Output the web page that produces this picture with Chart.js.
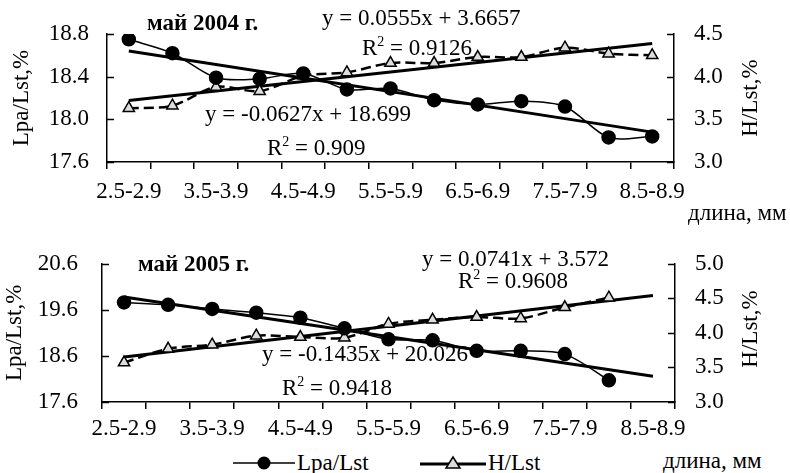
<!DOCTYPE html>
<html>
<head>
<meta charset="utf-8">
<script src="https://cdn.jsdelivr.net/npm/chart.js@4.4.0/dist/chart.umd.min.js"></script>
<style>
  body { margin: 0; width: 790px; height: 473px; background: #fff; position: relative; overflow: hidden;
         font-family: "Liberation Serif", "Times New Roman", serif; color: #000; }
  canvas { position: absolute; left: 0; }
  .t { position: absolute; font-size: 23px; line-height: 1; white-space: nowrap; transform: translateY(-50%); }
  .t sup { font-size: 14px; vertical-align: 9px; line-height: 0; }
  .b { font-weight: bold; font-size: 23px; }
  .rot { position: absolute; font-size: 23px; line-height: 1; white-space: nowrap; transform: translate(-50%, -50%) rotate(-90deg); }
  .leg { position: absolute; display: flex; align-items: center; font-size: 23px; transform: translateY(-50%); }
  .leg svg { margin-right: 2px; }
</style>
</head>
<body>
<canvas id="c2004" width="790" height="200" style="top:0"></canvas>
<canvas id="c2005" width="790" height="220" style="top:226px"></canvas>

<!-- top panel texts -->
<div class="t b" style="left:147px;top:22px">май 2004 г.</div>
<div class="t" style="left:322px;top:17px">y = 0.0555x + 3.6657</div>
<div class="t" style="left:362px;top:47px">R<sup>2</sup> = 0.9126</div>
<div class="t" style="left:205px;top:113px">y = -0.0627x + 18.699</div>
<div class="t" style="left:267px;top:147px">R<sup>2</sup> = 0.909</div>
<div class="rot" style="left:749px;top:98px">H/Lst,%</div>
<div class="t" style="left:688px;top:212px">длина, мм</div>

<!-- bottom panel texts -->
<div class="t b" style="left:138px;top:263px">май 2005 г.</div>
<div class="t" style="left:422px;top:258px">y = 0.0741x + 3.572</div>
<div class="t" style="left:458px;top:280px">R<sup>2</sup> = 0.9608</div>
<div class="t" style="left:262px;top:353px">y = -0.1435x + 20.026</div>
<div class="t" style="left:282px;top:387px">R<sup>2</sup> = 0.9418</div>
<div class="rot" style="left:749px;top:329px">H/Lst,%</div>
<div class="t" style="left:663px;top:460px">длина, мм</div>

<div class="leg" style="left:233px;top:463px">
  <svg width="62" height="16"><line x1="0" y1="8" x2="62" y2="8" stroke="#000" stroke-width="1.5"/><circle cx="31" cy="8" r="6.5" fill="#000"/></svg>Lpa/Lst
</div>
<div class="leg" style="left:420px;top:463px">
  <svg width="66" height="16"><line x1="0" y1="9" x2="66" y2="9" stroke="#000" stroke-width="3"/><polygon points="33,2 40,13 26,13" fill="#ddd" stroke="#000" stroke-width="1.5"/></svg>H/Lst
</div>

<script>
// size classes, mm
const categories = ['2.5-2.9', '3.0-3.4', '3.5-3.9', '4.0-4.4', '4.5-4.9', '5.0-5.4', '5.5-5.9',
                    '6.0-6.4', '6.5-6.9', '7.0-7.4', '7.5-7.9', '8.0-8.4', '8.5-8.9'];

// май 2004
const lpa2004 = [18.75, 18.62, 18.39, 18.38, 18.43, 18.28, 18.29, 18.18, 18.14, 18.17, 18.12, 17.83, 17.84];
const h2004   = [3.63, 3.66, 3.88, 3.83, 4.01, 4.05, 4.16, 4.16, 4.23, 4.23, 4.34, 4.27, 4.25];
const trendLpa2004 = [18.64, 17.88];   // first / last class
const trendH2004   = [3.72, 4.39];

// май 2005
const lpa2005 = [19.76, 19.71, 19.62, 19.54, 19.43, 19.20, 18.96, 18.94, 18.71, 18.71, 18.64, 18.07];
const h2005   = [3.57, 3.77, 3.83, 3.96, 3.94, 3.93, 4.13, 4.19, 4.23, 4.21, 4.37, 4.51];
const trendLpa2005 = [19.88, 18.16];
const trendH2005   = [3.65, 4.54];

// axis ranges: min, max, step
const ticks2004L = [17.6, 18.8, 0.4], ticks2004R = [3.0, 4.5, 0.5];
const ticks2005L = [17.6, 20.6, 1.0], ticks2005R = [3.0, 5.0, 0.5];

const FONT = { family: '"Liberation Serif", "Times New Roman", serif', size: 23, lineHeight: 1.2 };

// y ticks in the original point inwards
const inwardTicks = {
  id: 'inwardTicks',
  afterDraw(chart) {
    const ctx = chart.ctx;
    ctx.save();
    ctx.strokeStyle = '#000';
    ctx.lineWidth = 1.5;
    ['y', 'y1'].forEach(id => {
      const s = chart.scales[id];
      const x0 = id === 'y' ? s.right : s.left;
      const dir = id === 'y' ? 1 : -1;
      s.ticks.forEach(t => {
        const py = Math.round(s.getPixelForValue(t.value)) + 0.5;
        ctx.beginPath();
        ctx.moveTo(x0, py);
        ctx.lineTo(x0 + dir * 7, py);
        ctx.stroke();
      });
    });
    ctx.restore();
  }
};

const trendData = t => [{ x: categories[0], y: t[0] }, { x: categories[categories.length - 1], y: t[1] }];

function makePanel(id, p) {
  return new Chart(document.getElementById(id), {
    type: 'line',
    data: {
      labels: categories,
      datasets: [
        { label: 'Lpa/Lst', data: p.lpa, yAxisID: 'y', borderColor: '#000', borderWidth: 1.5, tension: 0.3,
          pointStyle: 'circle', pointRadius: 6.5, pointBackgroundColor: '#000', pointBorderColor: '#000' },
        { label: 'H/Lst', data: p.h, yAxisID: 'y1', borderColor: '#000', borderWidth: 2.5, borderDash: [10, 5], tension: 0.3,
          pointStyle: 'triangle', pointRadius: 6.5, pointBackgroundColor: '#ddd', pointBorderColor: '#000', pointBorderWidth: 1.5 },
        { label: 'trend Lpa', data: trendData(p.trendLpa), yAxisID: 'y', borderColor: '#000', borderWidth: 3, pointRadius: 0 },
        { label: 'trend H', data: trendData(p.trendH), yAxisID: 'y1', borderColor: '#000', borderWidth: 3, pointRadius: 0 },
      ]
    },
    options: {
      responsive: false, animation: false,
      layout: { padding: { top: 34, left: 0, right: 0, bottom: 0 } },
      plugins: { legend: { display: false }, tooltip: { enabled: false } },
      scales: {
        x: {
          offset: true,
          grid: { offset: true, drawOnChartArea: false, drawTicks: true, tickLength: 7, color: '#000', lineWidth: 1.5 },
          border: { color: '#000', width: 1.5 },
          ticks: { color: '#000', font: FONT, autoSkip: false, maxRotation: 0, padding: p.xPad,
                   callback: (v, i) => i % 2 === 0 ? categories[i] : '' },
          afterFit: s => { s.height = p.xH; }
        },
        y: {
          position: 'left', min: p.left[0], max: p.left[1],
          grid: { display: false, drawTicks: false },
          border: { color: '#000', width: 1.5 },
          ticks: { stepSize: p.left[2], color: '#000', font: FONT, padding: p.yPad, callback: v => v.toFixed(1) },
          title: { display: true, text: 'Lpa/Lst,%', color: '#000', font: FONT, padding: { top: p.titlePad, bottom: 0 } },
          afterFit: s => { s.width = p.leftW; }
        },
        y1: {
          position: 'right', min: p.right[0], max: p.right[1],
          grid: { display: false, drawTicks: false },
          border: { color: '#000', width: 1.5 },
          ticks: { stepSize: p.right[2], color: '#000', font: FONT, padding: 20, callback: v => v.toFixed(1) },
          afterFit: s => { s.width = p.rightW; }
        }
      }
    },
    plugins: [inwardTicks]
  });
}

makePanel('c2004', {
  lpa: lpa2004, h: h2004, trendLpa: trendLpa2004, trendH: trendH2004,
  left: ticks2004L, right: ticks2004R,
  leftW: 107, rightW: 116, xH: 38, xPad: 9, yPad: 18, titlePad: 8
});

makePanel('c2005', {
  lpa: lpa2005, h: h2005, trendLpa: trendLpa2005, trendH: trendH2005,
  left: ticks2005L, right: ticks2005R,
  leftW: 102, rightW: 115, xH: 44, xPad: 6, yPad: 24, titlePad: 1
});
</script>
</body>
</html>
